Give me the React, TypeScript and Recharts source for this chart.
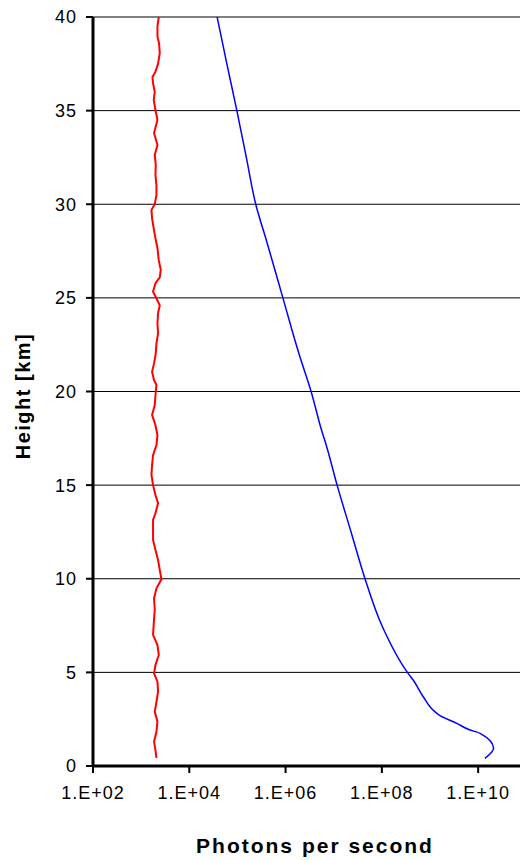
import React from "react";
import { ScatterChart, Scatter, XAxis, YAxis, CartesianGrid } from "recharts";

// Heights in km (red, background counts)
const redHeights = [40.0, 39.5, 38.95, 38.6, 38.06, 37.5, 37.08, 36.8, 36.46, 36.0, 35.57, 35.03, 34.5, 33.8, 33.16, 32.63, 32.1, 31.56, 31.0, 30.5, 30.0, 29.7, 29.25, 28.7, 28.18, 27.65, 27.0, 26.5, 26.1, 25.78, 25.33, 24.97, 24.6, 24.18, 23.64, 23.1, 22.57, 22.04, 21.5, 21.06, 20.6, 20.35, 19.8, 19.28, 18.75, 18.2, 17.68, 17.14, 16.6, 16.07, 15.54, 15.0, 14.47, 14.03, 13.5, 13.14, 12.6, 12.07, 11.54, 11.0, 10.47, 9.97, 9.49, 8.96, 8.33, 7.62, 7.0, 6.46, 5.93, 5.39, 4.95, 4.5, 3.97, 3.43, 2.9, 2.37, 1.83, 1.3, 0.85, 0.44];
const redPhotons = [2323, 2183, 2183, 2355, 2436, 2245, 1983, 1718, 1768, 1918, 1828, 1983, 2183, 1854, 2183, 1918, 2012, 1983, 2080, 2080, 1918, 1637, 1686, 1828, 1983, 2183, 2323, 2556, 2436, 1983, 1768, 2080, 2436, 2245, 2183, 2245, 2080, 2012, 1854, 1686, 1854, 2080, 1983, 1918, 1686, 1983, 2183, 2080, 1768, 1686, 1637, 1768, 1983, 2245, 1983, 1768, 1768, 1768, 1983, 2245, 2436, 2642, 2080, 1854, 1918, 1828, 1768, 2183, 2323, 1983, 1854, 2183, 2245, 2080, 1918, 2183, 2080, 1854, 1983, 2080];

// Heights in km (blue, signal)
const blueHeights = [40, 37.5, 35, 32.5, 30, 28, 25, 22, 20, 18, 17, 15, 12.5, 10, 7.5, 5, 4.59, 3.7, 2.9, 2.72, 2.28, 1.92, 1.745, 0.945, 0.41];
const bluePhotons = [37840, 60300, 97300, 153000, 240000, 407000, 879000, 1905000, 3388000, 5495000, 7244000, 11750000, 22910000, 44670000, 1.0e8, 3.39e8, 4.47e8, 7.24e8, 1.26e9, 1.55e9, 3.59e9, 6.76e9, 1.1e10, 2.09e10, 1.38e10];

const xTicks = [1e2, 1e4, 1e6, 1e8, 1e10];
const yTicks = [0, 5, 10, 15, 20, 25, 30, 35, 40];
const xDomain = [1e2, 7.4e10];

const redData = redHeights.map((h, i) => ({ h, p: redPhotons[i] }));
const blueData = blueHeights.map((h, i) => ({ h, p: bluePhotons[i] }));

const fmt = (v: number) => "1.E+" + String(Math.round(Math.log10(v))).padStart(2, "0");
const noShape = () => <g />;
const font = "'Liberation Sans', Arial, sans-serif";

const YLabel = () => (
  <text x={0} y={0} transform="translate(30,396) rotate(-90)" textAnchor="middle" fill="#000" fontSize={20} fontWeight="bold" fontFamily={font} letterSpacing={1.5}>
    Height [km]
  </text>
);
const XLabel = () => (
  <text x={315} y={853} textAnchor="middle" fill="#000" fontSize={21} fontWeight="bold" fontFamily={font} letterSpacing={2}>
    Photons per second
  </text>
);

export default function App() {
  return (
    <div style={{ position: "absolute", left: 0, top: 0, width: 520, height: 860, background: "#fff" }}>
      <ScatterChart width={520} height={860} margin={{ top: 17, right: 0, bottom: 0, left: 0 }}>
        <CartesianGrid horizontal={true} vertical={false} stroke="#000" strokeWidth={1} strokeOpacity={1} />
        <XAxis
          type="number"
          dataKey="p"
          scale="log"
          domain={xDomain}
          allowDataOverflow
          ticks={xTicks}
          tickFormatter={fmt}
          height={94}
          axisLine={{ stroke: "#000", strokeWidth: 3 }}
          tickLine={{ stroke: "#000", strokeWidth: 2 }}
          tickSize={7}
          tickMargin={13}
          tick={{ fill: "#000", fontSize: 18, fontFamily: font, letterSpacing: 1 }}
          label={{ content: XLabel }}
        />
        <YAxis
          type="number"
          dataKey="h"
          domain={[0, 40]}
          ticks={yTicks}
          width={93}
          axisLine={{ stroke: "#000", strokeWidth: 3 }}
          tickLine={{ stroke: "#000", strokeWidth: 2 }}
          tickSize={7}
          tickMargin={9}
          tick={{ fill: "#000", fontSize: 18, fontFamily: font, letterSpacing: 1 }}
          label={{ content: YLabel }}
        />
        <Scatter data={redData} line={{ stroke: "#ff0000", strokeWidth: 2 }} lineType="joint" shape={noShape} isAnimationActive={false} />
        <Scatter data={blueData} line={{ stroke: "#0000ff", strokeWidth: 1.5 }} lineType="joint" lineJointType="monotoneY" shape={noShape} isAnimationActive={false} />
      </ScatterChart>
    </div>
  );
}
